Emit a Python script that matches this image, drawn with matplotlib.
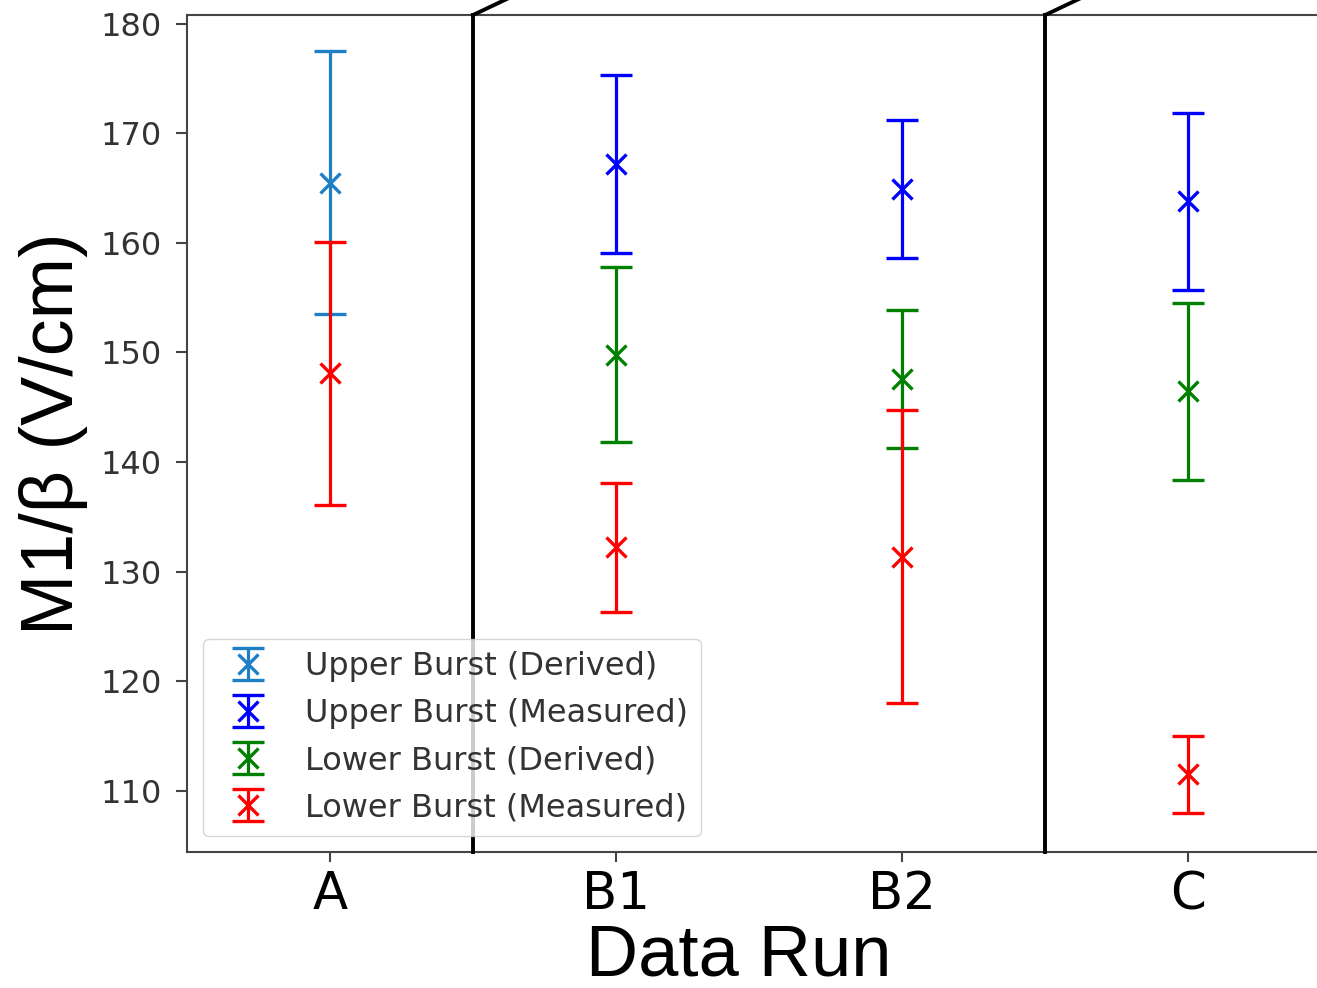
import numpy as np
import matplotlib.pyplot as plt

# Data runs on the x axis
runs = ["A", "B1", "B2", "C"]

# each series: which runs it covers, value, error (V/cm)
upper_derived_runs = ["A"]
upper_derived_val = [165.5]
upper_derived_err = [12.0]

upper_meas_runs = ["B1", "B2", "C"]
upper_meas_val = [167.2, 164.9, 163.8]
upper_meas_err = [8.1, 6.3, 8.1]

lower_derived_runs = ["B1", "B2", "C"]
lower_derived_val = [149.8, 147.6, 146.45]
lower_derived_err = [8.0, 6.3, 8.05]

lower_meas_runs = ["A", "B1", "B2", "C"]
lower_meas_val = [148.1, 132.2, 131.35, 111.5]
lower_meas_err = [12.0, 5.9, 13.35, 3.5]

# boundaries between run groups (drawn as broken-axis style dividers)
dividers = [0.5, 2.5]


def pos(names):
    return [runs.index(n) for n in names]


def main():
    fig = plt.figure(figsize=(13.17, 9.88), dpi=100)
    ax = fig.add_axes([187 / 1317, 136 / 988, 1130 / 1317, 837 / 988])

    style = dict(fmt="x", capsize=11.5, elinewidth=2.3, capthick=2.3,
                 markersize=14, markeredgewidth=2.4)

    ax.errorbar(pos(upper_derived_runs), upper_derived_val, yerr=upper_derived_err,
                color="#1f7fc6", label="Upper Burst (Derived)", **style)
    ax.errorbar(pos(upper_meas_runs), upper_meas_val, yerr=upper_meas_err,
                color="blue", label="Upper Burst (Measured)", **style)
    ax.errorbar(pos(lower_derived_runs), lower_derived_val, yerr=lower_derived_err,
                color="green", label="Lower Burst (Derived)", **style)
    ax.errorbar(pos(lower_meas_runs), lower_meas_val, yerr=lower_meas_err,
                color="red", label="Lower Burst (Measured)", **style)

    # dividers with little break marks sticking out of the top
    trans = ax.get_xaxis_transform()
    for d in dividers:
        ax.plot([d, d], [0, 1], color="black", lw=2.8, transform=trans,
                clip_on=False, zorder=5)
        ax.plot([d, d + 0.16], [1, 1.026], color="black", lw=2.8,
                transform=trans, clip_on=False, zorder=5)

    ax.set_xlim(-0.5, 3.45)
    ax.set_ylim(104.4, 180.8)
    ax.set_yticks(np.arange(110, 181, 10))
    ax.set_xticks(range(len(runs)))
    ax.set_xticklabels(runs)

    for s in ["left", "bottom", "top"]:
        ax.spines[s].set_color("#444444")
        ax.spines[s].set_linewidth(1.5)
    ax.spines["right"].set_visible(False)

    ax.tick_params(axis="y", labelsize=23, labelcolor="#333333", length=8,
                   width=1.5, color="#444444", pad=10)
    ax.tick_params(axis="x", labelsize=37, labelcolor="black", length=7,
                   width=1.5, color="#444444", pad=6)

    lab_font = ["Liberation Sans", "DejaVu Sans"]
    ax.set_xlabel("Data Run", fontsize=52, fontfamily=lab_font)
    ax.xaxis.set_label_coords(0.4885, -0.085)
    ax.set_ylabel("M1/\u03b2 (V/cm)", fontsize=53, fontfamily=lab_font,
                  labelpad=9)

    leg = ax.legend(loc="lower left", fontsize=23, borderaxespad=0.5)
    for t in leg.get_texts():
        t.set_color("#333333")

    fig.savefig("out.png", dpi=100)


if __name__ == "__main__":
    main()
